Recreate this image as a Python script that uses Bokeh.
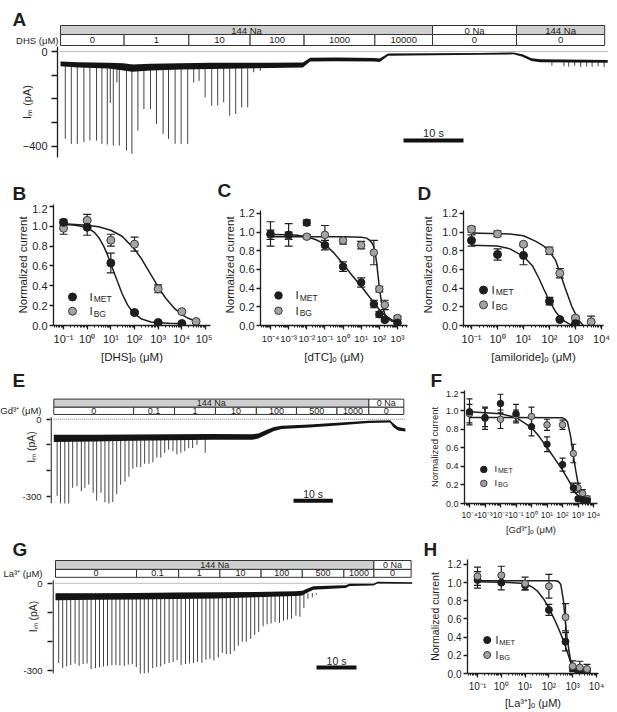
import math
from bokeh.plotting import figure
from bokeh.models import (Range1d, FixedTicker, CustomJSTickFormatter, PrintfTickFormatter,
                          Label, Whisker, TeeHead, ColumnDataSource)
from bokeh.layouts import column, row
from bokeh.embed import file_html
from bokeh.resources import INLINE
from bokeh.core.properties import value

FONT = "Liberation Sans"
INK = "#1e1e1e"
MET_FILL = "#1e1e1e"
BG_FILL = "#a3a3a3"
BG_LINE = "#3a3a3a"
HEAD_GRAY = "#cfcfcf"
SPIKE = "#444444"

# ======================= DATA =======================
# ---- A : DHS trace (time s, current pA) ----
a_na_edges = [0.0, 62.0, 76.0, 90.7]
a_na_labels = ["144 Na", "0 Na", "144 Na"]
a_na_shaded = [True, False, True]
a_dhs_edges = [0.0, 10.6, 21.4, 31.6, 40.6, 52.4, 62.0, 76.0, 90.7]
a_dhs_labels = ["0", "1", "10", "100", "1000", "10000", "0", "0"]
a_base_t = [0, 3, 8, 10.5, 12, 15, 20, 25, 30, 35, 40.4, 41.6, 46, 52.3, 53.2, 54.6, 62, 70, 75.5, 77, 78.5, 80, 91.2]
a_base_hi = [-42, -45, -47, -50, -55, -52, -50, -48, -47, -47, -46, -26, -25, -27, -30, -8, -7, -6, -4, -12, -28, -33, -36]
a_base_lo = [-62, -68, -72, -80, -85, -80, -76, -74, -72, -70, -68, -42, -41, -42, -44, -18, -16, -14, -12, -22, -40, -45, -48]
a_spike_t = [0.8, 1.8, 2.8, 3.9, 4.9, 6.0, 6.9, 7.8, 8.3, 8.8, 9.4, 9.8, 11.0, 11.9, 12.9, 13.9, 15.0, 16.0,
             17.1, 18.0, 19.1, 20.1, 21.2, 22.2, 23.1, 24.1, 25.2, 26.2, 27.2, 28.2, 29.2, 30.2, 31.2, 32.2, 33.3]
a_spike_pa = [-369, -390, -390, -383, -376, -376, -390, -393, -218, -397, -131, -397, -418, -432, -334, -243,
              -243, -306, -348, -369, -390, -390, -390, -131, -124, -194, -229, -229, -215, -271, -264, -236,
              -236, -88, -81]
a_late_t = [81.9, 83.9, 84.7, 85.7, 86.7, 87.7, 88.6, 89.6, 90.6]
a_late_pa = [-60, -62, -64, -60, -66, -63, -65, -62, -66]

# ---- B : DHS dose response ----
b_x_met = [0.1, 1, 10, 100, 1000, 10000]
b_y_met = [1.04, 0.99, 0.63, 0.13, 0.03, 0.02]
b_e_met = [0.03, 0.08, 0.10, 0.015, 0.01, 0.01]
b_x_bg = [0.1, 1, 10, 100, 1000, 10000, 40000]
b_y_bg = [0.98, 1.06, 0.86, 0.82, 0.37, 0.14, 0.04]
b_e_bg = [0.06, 0.06, 0.06, 0.07, 0.04, 0.015, 0.02]
b_fit_met_x = [0.1, 0.3, 1, 2, 3, 5, 7, 10, 15, 20, 30, 50, 70, 100, 200, 500, 1000, 3000, 10000]
b_fit_met_y = [1.02, 1.01, 0.99, 0.94, 0.89, 0.80, 0.72, 0.62, 0.51, 0.43, 0.32, 0.21, 0.16, 0.12, 0.065,
               0.035, 0.027, 0.022, 0.02]
b_fit_bg_x = [0.1, 1, 3, 10, 30, 100, 200, 500, 1000, 2000, 5000, 10000, 20000, 40000]
b_fit_bg_y = [1.025, 1.01, 0.995, 0.96, 0.90, 0.77, 0.67, 0.51, 0.39, 0.28, 0.17, 0.11, 0.07, 0.04]

# ---- C : dTC dose response ----
c_x = [1e-4, 1e-3, 1e-2, 0.1, 1, 10, 50, 100, 200, 1000]
c_y_met = [0.98, 0.97, 1.10, 0.86, 0.63, 0.46, 0.23, 0.12, 0.06, 0.03]
c_e_met = [0.13, 0.12, 0.03, 0.05, 0.05, 0.05, 0.04, 0.03, 0.02, 0.01]
c_y_bg = [0.97, 0.96, 0.95, 0.97, 0.91, 0.86, 0.78, 0.39, 0.22, 0.08]
c_e_bg = [0.05, 0.04, 0.02, 0.10, 0.04, 0.04, 0.13, 0.03, 0.05, 0.02]
c_fit_met_x = [1e-4, 1e-3, 3e-3, 1e-2, 3e-2, 0.1, 0.3, 1, 3, 10, 30, 50, 100, 200, 500, 1000]
c_fit_met_y = [0.975, 0.97, 0.965, 0.95, 0.92, 0.87, 0.78, 0.66, 0.54, 0.42, 0.30, 0.25, 0.17, 0.11, 0.06, 0.04]
c_fit_bg_x = [1e-4, 1, 10, 20, 30, 40, 50, 60, 70, 80, 100, 130, 200, 300, 500, 1000]
c_fit_bg_y = [0.95, 0.95, 0.945, 0.935, 0.91, 0.88, 0.84, 0.77, 0.68, 0.58, 0.41, 0.25, 0.12, 0.07, 0.045, 0.035]

# ---- D : amiloride dose response ----
d_x_met = [0.1, 1, 10, 100, 250, 1000]
d_y_met = [0.91, 0.76, 0.75, 0.26, 0.064, 0.02]
d_e_met = [0.06, 0.06, 0.10, 0.04, 0.01, 0.01]
d_x_bg = [0.1, 1, 10, 100, 250, 1000, 4000]
d_y_bg = [1.03, 0.98, 0.87, 0.80, 0.56, 0.08, 0.04]
d_e_bg = [0.03, 0.03, 0.01, 0.04, 0.05, 0.02, 0.06]
d_fit_met_x = [0.1, 1, 3, 10, 22, 40, 60, 100, 170, 300, 540, 900]
d_fit_met_y = [0.86, 0.85, 0.82, 0.74, 0.64, 0.50, 0.39, 0.26, 0.15, 0.065, 0.02, 0.0]
d_fit_bg_x = [0.1, 3, 10, 30, 60, 100, 170, 240, 400, 730, 1300, 2000]
d_fit_bg_y = [0.99, 0.98, 0.96, 0.90, 0.85, 0.79, 0.70, 0.58, 0.40, 0.20, 0.06, 0.0]

# ---- E : Gd3+ trace ----
e_na_edges = [0.0, 80.1, 89.0]
e_na_labels = ["144 Na", "0 Na"]
e_na_shaded = [True, False]
e_gd_edges = [0.0, 20.3, 30.7, 41.1, 51.5, 61.7, 72.0, 80.1, 89.0]
e_gd_labels = ["0", "0.1", "1", "10", "100", "500", "1000", "0"]
e_base_t = [0, 10, 20, 30, 40, 50.5, 52, 54, 56, 58, 65, 72, 80, 85.5, 86.3, 87.5, 89.4]
e_base_hi = [-60, -60, -59, -58, -57, -58, -55, -42, -30, -25, -20, -14, -6, -4, -16, -30, -36]
e_base_lo = [-88, -86, -84, -82, -80, -80, -75, -60, -46, -38, -32, -24, -15, -13, -30, -44, -48]
e_spike_t = [0.85, 1.7, 2.8, 3.8, 4.8, 5.9, 7.0, 7.9, 8.9, 10.0, 10.9, 12.0, 13.0, 14.0, 15.0, 16.0, 17.0,
             18.1, 19.1, 20.1, 21.1, 22.1, 23.1, 24.2, 25.2, 26.2, 27.2, 28.2, 29.2, 30.3, 31.3, 32.3, 33.3,
             34.3, 35.3, 36.4, 38.5]
e_spike_pa = [-297, -328, -335, -341, -266, -260, -279, -266, -254, -285, -316, -285, -322, -341, -322, -291,
              -254, -242, -223, -192, -186, -186, -173, -173, -167, -149, -149, -130, -118, -124, -136, -130,
              -124, -112, -112, -99, -130]

# ---- F : Gd3+ dose response ----
f_x = [1e-4, 1e-3, 1e-2, 0.1, 1, 10, 100, 500, 1000, 2000, 4000]
f_y_met = [0.99, 0.93, 1.08, 0.97, 0.83, 0.64, 0.42, 0.17, 0.05, 0.04, 0.03]
f_e_met = [0.14, 0.10, 0.10, 0.10, 0.10, 0.08, 0.07, 0.05, 0.02, 0.02, 0.02]
f_y_bg = [0.97, 0.92, 0.91, 0.95, 0.94, 0.85, 0.85, 0.54, 0.17, 0.11, 0.05]
f_e_bg = [0.10, 0.12, 0.10, 0.06, 0.10, 0.06, 0.05, 0.10, 0.05, 0.04, 0.03]
f_fit_met_x = [1e-4, 1e-2, 0.1, 1, 3.2, 9.6, 30, 100, 270, 710, 1900, 5000]
f_fit_met_y = [0.99, 0.97, 0.93, 0.82, 0.72, 0.61, 0.49, 0.36, 0.24, 0.11, 0.05, 0.025]
f_fit_bg_x = [1e-4, 100, 150, 210, 340, 480, 710, 1000, 1480, 2400, 5000]
f_fit_bg_y = [0.93, 0.925, 0.91, 0.88, 0.72, 0.54, 0.36, 0.22, 0.11, 0.04, 0.015]

# ---- G : La3+ trace ----
g_na_edges = [0.0, 79.6, 88.9]
g_na_labels = ["144 Na", "0 Na"]
g_na_shaded = [True, False]
g_la_edges = [0.0, 20.25, 30.8, 41.1, 51.4, 61.7, 72.1, 79.6, 88.9]
g_la_labels = ["0", "0.1", "1", "10", "100", "500", "1000", "0"]
g_base_t = [0, 10, 20, 30, 40, 50, 60, 61.7, 63, 64.5, 70, 72.5, 73.5, 79.5, 80.5, 89.2]
g_base_hi = [-34, -34, -33, -32, -31, -30, -27, -26, -18, -10, -8, -7, -2, -2, 5, 4]
g_base_lo = [-58, -57, -56, -54, -52, -48, -44, -42, -32, -22, -18, -16, -9, -8, -1, -2]
g_spike_t = [0.8, 1.8, 2.8, 3.8, 4.9, 5.9, 6.9, 7.9, 8.9, 10.0, 11.0, 12.0, 13.0, 14.1, 15.1, 16.1, 17.2,
             18.2, 19.2, 20.2, 21.2, 22.2, 23.2, 24.3, 25.3, 26.3, 27.3, 28.4, 29.4, 30.4, 31.4, 32.5, 33.5,
             34.5, 35.5, 36.6, 37.6, 38.6, 39.6, 40.7, 41.7, 42.7, 43.7, 44.7, 45.7, 46.7, 47.7, 48.8, 49.8,
             50.8, 51.9, 52.9, 53.9, 54.9, 56.0, 57.0, 58.0, 59.0, 60.1, 61.1, 62.1, 63.1, 64.2, 65.2]
g_spike_pa = [-274, -292, -286, -281, -276, -284, -278, -276, -295, -292, -289, -286, -284, -282, -281, -283,
              -284, -280, -278, -288, -313, -313, -308, -292, -288, -286, -278, -274, -271, -265, -281, -278,
              -276, -274, -270, -274, -263, -260, -265, -255, -239, -244, -244, -233, -214, -201, -201, -191,
              -178, -168, -148, -141, -138, -133, -136, -129, -125, -122, -111, -115, -85, -53, -48, -40]

# ---- H : La3+ dose response ----
h_x = [0.1, 1, 10, 100, 500, 1000, 2000, 4000]
h_y_met = [1.03, 1.00, 0.97, 0.70, 0.35, 0.06, 0.03, 0.03]
h_e_met = [0.09, 0.08, 0.05, 0.06, 0.10, 0.03, 0.02, 0.02]
h_y_bg = [1.07, 1.08, 0.99, 0.96, 0.62, 0.08, 0.065, 0.05]
h_e_bg = [0.10, 0.10, 0.07, 0.13, 0.15, 0.06, 0.07, 0.05]
h_fit_met_x = [0.1, 3, 10, 20, 32, 60, 100, 190, 300, 440, 720, 1000, 1650, 3200]
h_fit_met_y = [1.01, 1.0, 0.99, 0.95, 0.91, 0.82, 0.72, 0.57, 0.45, 0.34, 0.17, 0.075, 0.02, 0.0]
h_fit_bg_x = [0.1, 200, 260, 316, 410, 470, 570, 720, 910, 1180, 1650]
h_fit_bg_y = [1.02, 1.02, 1.01, 0.98, 0.80, 0.62, 0.41, 0.23, 0.075, 0.02, 0.0]

y_ticks = [0.0, 0.2, 0.4, 0.6, 0.8, 1.0, 1.2]
b_xticks = [1e-1, 1e0, 1e1, 1e2, 1e3, 1e4, 1e5]
c_xticks = [1e-4, 1e-3, 1e-2, 1e-1, 1e0, 1e1, 1e2, 1e3]
d_xticks = [1e-1, 1e0, 1e1, 1e2, 1e3, 1e4]
f_xticks = [1e-4, 1e-3, 1e-2, 1e-1, 1e0, 1e1, 1e2, 1e3, 1e4]
h_xticks = [1e-1, 1e0, 1e1, 1e2, 1e3, 1e4]
scale_bar_s = 10

# ======================= HELPERS =======================
SUP_JS = r"""
const m = {"-": "\u207b", "0": "\u2070", "1": "\u00b9", "2": "\u00b2", "3": "\u00b3",
           "4": "\u2074", "5": "\u2075", "6": "\u2076", "7": "\u2077", "8": "\u2078", "9": "\u2079"};
const e = Math.round(Math.log10(tick));
let s = "";
for (const c of String(e)) { s += m[c]; }
return "10" + s;
"""
TRACE_JS = "return tick > 1 ? lab : tick.toFixed(0);"


def style_axes(p):
    p.outline_line_color = None
    p.grid.visible = False
    p.background_fill_color = "white"
    p.border_fill_color = "white"
    for ax in p.axis:
        ax.axis_line_color = INK
        ax.axis_line_width = 1.3
        ax.major_tick_line_color = INK
        ax.major_tick_line_width = 1.3
        ax.minor_tick_line_color = INK
        ax.minor_tick_line_width = 1
        ax.major_tick_in = 0
        ax.minor_tick_in = 0
        ax.major_label_text_font = FONT
        ax.major_label_text_color = INK
        ax.axis_label_text_font = FONT
        ax.axis_label_text_color = INK
        ax.axis_label_text_font_style = "normal"


class Geo:
    """Maps page pixel positions (origin top-left of the page) to data for one panel."""
    def __init__(self, fig_x, fig_w, row_top, row_h, frame, xa, ya, xlog=False):
        self.fig_x, self.fig_w, self.row_top, self.row_h = fig_x, fig_w, row_top, row_h
        self.l, self.t, self.r, self.b = frame
        self.xa, self.ya, self.xlog = xa, ya, xlog

    def dx(self, px):
        pr, dr, k = self.xa
        v = dr + (px - pr) / k
        return 10 ** v if self.xlog else v

    def dy(self, py):
        pr, dr, k = self.ya
        return dr + (pr - py) / k

    def sx(self, px):
        return px - self.l

    def sy(self, py):
        return self.b - py

    def make(self, show_x=True):
        kw = dict(width=self.fig_w, height=self.row_h, output_backend="svg", toolbar_location=None,
                  x_range=Range1d(self.dx(self.l), self.dx(self.r)),
                  y_range=Range1d(self.dy(self.b), self.dy(self.t)),
                  min_border_left=self.l - self.fig_x,
                  min_border_right=self.fig_x + self.fig_w - self.r,
                  min_border_top=self.t - self.row_top,
                  min_border_bottom=self.row_top + self.row_h - self.b)
        if self.xlog:
            kw["x_axis_type"] = "log"
        if not show_x:
            kw["x_axis_location"] = None
        p = figure(**kw)
        style_axes(p)
        return p


def strip(top, h, xr=(0, 617)):
    """Full-width text strip; y in page pixels, x in the given units spanning the page width."""
    p = figure(width=617, height=h, output_backend="svg", toolbar_location=None,
               x_range=Range1d(*xr), y_range=Range1d(top + h, top),
               x_axis_location=None, y_axis_location=None,
               min_border_left=0, min_border_right=0, min_border_top=0, min_border_bottom=0)
    p.outline_line_color = None
    p.grid.visible = False
    p.background_fill_color = "white"
    p.border_fill_color = "white"
    return p


def letters(p, xs, ys, texts):
    # ys are the vertical centres of the capital letters
    p.text(x=xs, y=ys, text=texts, text_font=value(FONT), text_font_size=value("19px"),
           text_font_style="bold", text_align="left", text_baseline="middle", text_color=INK)


def add_label(p, g, px, py, text, size, align="left"):
    p.add_layout(Label(x=g.sx(px), y=g.sy(py), x_units="screen", y_units="screen", text=text,
                       text_font=FONT, text_font_size=f"{size}px", text_align=align,
                       text_baseline="middle", text_color=INK))


def header(p, na, drug, y_top, y_mid, y_bot, fs):
    na_edges, na_labels, na_shaded = na
    d_edges, d_labels = drug
    p.quad(left=na_edges[:-1], right=na_edges[1:], bottom=[y_mid] * len(na_labels), top=[y_top] * len(na_labels),
           fill_color=[HEAD_GRAY if s else "white" for s in na_shaded], line_color="#333333", line_width=1)
    p.quad(left=d_edges[:-1], right=d_edges[1:], bottom=[y_bot] * len(d_labels), top=[y_mid] * len(d_labels),
           fill_color="white", line_color="#333333", line_width=1)
    p.text(x=[(a + b) / 2 for a, b in zip(na_edges[:-1], na_edges[1:])], y=[(y_top + y_mid) / 2] * len(na_labels),
           text=na_labels, text_align="center", text_baseline="middle", text_font=value(FONT),
           text_font_size=value(fs), text_color=INK)
    p.text(x=[(a + b) / 2 for a, b in zip(d_edges[:-1], d_edges[1:])], y=[(y_mid + y_bot) / 2] * len(d_labels),
           text=d_labels, text_align="center", text_baseline="middle", text_font=value(FONT),
           text_font_size=value(fs), text_color=INK)


def dose_panel(g, xticks, xlabel, met, bg, fit_met, fit_bg, st, legend, gray_top=False):
    p = g.make()
    ya = p.yaxis[0]
    xa = p.xaxis[0]
    ya.ticker = FixedTicker(ticks=y_ticks)
    ya.formatter = PrintfTickFormatter(format="%.1f")
    ya.minor_tick_line_color = None
    ya.major_tick_out = 4
    ya.major_label_standoff = 2
    ya.major_label_text_font_size = st["ytick"]
    ya.axis_label = "Normalized current"
    ya.axis_label_text_font_size = st["ylab"]
    ya.axis_label_standoff = st["ylab_so"]
    ya.bounds = (0, st["ytop"])
    x0, x1 = p.x_range.start, p.x_range.end
    minor = []
    for d in range(math.floor(math.log10(x0)), math.ceil(math.log10(x1)) + 1):
        for k in range(2, 10):
            v = k * 10.0 ** d
            if x0 <= v <= x1:
                minor.append(v)
    xa.ticker = FixedTicker(ticks=xticks, minor_ticks=minor)
    xa.formatter = CustomJSTickFormatter(code=SUP_JS)
    xa.major_tick_out = 4
    xa.minor_tick_out = 2
    xa.major_label_standoff = st["xtick_so"]
    xa.major_label_text_font_size = st["xtick"]
    xa.axis_label = xlabel
    xa.axis_label_text_font_size = st["xlab"]
    xa.axis_label_standoff = st["xlab_so"]

    def errbars(xs, ys, es):
        src = ColumnDataSource(dict(x=xs, lo=[y - e for y, e in zip(ys, es)],
                                    hi=[y + e for y, e in zip(ys, es)]))
        p.add_layout(Whisker(source=src, base="x", lower="lo", upper="hi", dimension="height",
                             level="underlay", line_color=INK, line_width=1.2,
                             lower_head=TeeHead(size=st["cap"], line_color=INK, line_width=1.2),
                             upper_head=TeeHead(size=st["cap"], line_color=INK, line_width=1.2)))

    errbars(*met)
    errbars(*bg)
    p.line(fit_met[0], fit_met[1], line_color=INK, line_width=1.5)
    p.line(fit_bg[0], fit_bg[1], line_color=INK, line_width=1.5)

    def pts_met():
        p.scatter(met[0], met[1], size=st["size"], marker="circle", fill_color=MET_FILL, line_color=MET_FILL)

    def pts_bg():
        p.scatter(bg[0], bg[1], size=st["size"], marker="circle", fill_color=BG_FILL,
                  line_color=BG_LINE, line_width=1)

    if gray_top:
        pts_met(); pts_bg()
    else:
        pts_bg(); pts_met()

    lx, ly1, ly2, tx, fs, sfs, sub_dx, sub_dy = legend
    p.scatter([g.dx(lx)], [g.dy(ly1)], size=st["size"], marker="circle", fill_color=MET_FILL, line_color=MET_FILL)
    p.scatter([g.dx(lx)], [g.dy(ly2)], size=st["size"], marker="circle", fill_color=BG_FILL,
              line_color=BG_LINE, line_width=1)
    add_label(p, g, tx, ly1, "I", fs)
    add_label(p, g, tx + sub_dx, ly1 + sub_dy, "MET", sfs)
    add_label(p, g, tx, ly2, "I", fs)
    add_label(p, g, tx + sub_dx, ly2 + sub_dy, "BG", sfs)
    return p


def trace_panel(g, band, spike_groups, st, bar_pos, zero_end, head=None, drug_name=None):
    p = g.make(show_x=False)
    ya = p.yaxis[0]
    ya.minor_tick_out = st["tick"]
    ya.minor_tick_line_width = 1.3
    ya.major_label_text_font_size = st["tick_fs"]
    ya.axis_label = "I\u2098 (pA)"
    ya.axis_label_text_font_size = st["ylab_fs"]
    ya.axis_label_standoff = st["ylab_so"]
    if head is None:
        ya.ticker = FixedTicker(ticks=[-st["full"], 0], minor_ticks=st["minor"])
        ya.major_tick_out = st["tick"]
        ya.major_label_standoff = st["lab_so"]
    else:
        # header rows inside the frame, drug name written as the label of a tick on the header row
        na, drug, rows = head
        top, mid, bot = g.dy(rows[0]), g.dy(rows[1]), g.dy(rows[2])
        header(p, na, drug, top, mid, bot, st["head_fs"])
        ya.ticker = FixedTicker(ticks=[-st["full"], 0, (mid + bot) / 2],
                                minor_ticks=[-st["full"]] + st["minor"] + [0])
        ya.formatter = CustomJSTickFormatter(args=dict(lab=drug_name), code=TRACE_JS)
        ya.major_tick_line_color = None
        ya.major_tick_out = 0
        ya.major_label_standoff = st["lab_so"]
        ya.axis_line_color = None
        xl = g.dx(g.l + 0.6)
        p.segment(x0=[xl], y0=[g.dy(g.b)], x1=[xl], y1=[g.dy(st["axis_top"])], line_color=INK, line_width=1.3)
    # zero line
    p.segment(x0=[0.0], y0=[0], x1=[zero_end], y1=[0], line_color="#777777", line_width=1, line_dash="1 1")
    for ts, pas, start in spike_groups:
        p.segment(x0=ts, y0=[start] * len(ts), x1=ts, y1=pas, line_color=SPIKE, line_width=1)
    p.varea(x=band[0], y1=band[2], y2=band[1], fill_color="#141414")
    bx, by, tc = bar_pos
    x0 = g.dx(bx)
    p.segment(x0=[x0], y0=[g.dy(by)], x1=[x0 + scale_bar_s], y1=[g.dy(by)], line_color="#111111",
              line_width=4, line_cap="butt")
    p.text(x=[x0 + scale_bar_s / 2], y=[g.dy(tc)], text=[f"{scale_bar_s} s"], text_align="center",
           text_baseline="middle", text_font=value(FONT), text_font_size=value(st["bar_fs"]),
           text_color=INK)
    return p


# ======================= PANELS =======================
# ---- Row 1 : A ----
gA = Geo(0, 617, 46, 124, (57, 46, 609, 157), (60, 0.0, 6.0), (51, 0.0, 0.2368))
sA = strip(0, 46, xr=(gA.dx(0), gA.dx(617)))
header(sA, (a_na_edges, a_na_labels, a_na_shaded), (a_dhs_edges, a_dhs_labels), 25, 34, 45, "9.5px")
sA.text(x=[gA.dx(58)], y=[39.5], text=["DHS (\u03bcM)"], text_align="right", text_baseline="middle",
        text_font=value(FONT), text_font_size=value("9.5px"), text_color=INK)
letters(sA, [gA.dx(12)], [19], ["A"])
pA = trace_panel(gA, (a_base_t, a_base_hi, a_base_lo),
                 [(a_spike_t, a_spike_pa, -55), (a_late_t, a_late_pa, -40)],
                 dict(full=400, minor=[-300, -200, -100], tick=6, tick_fs="11px", lab_so=4,
                      ylab_fs="11px", ylab_so=-13, bar_fs="11px"),
                 (403, 140, 132.5), 91.2)

# ---- Row 2 : B, C, D ----
s2 = strip(170, 34)
letters(s2, [12, 217, 417], [193, 190, 193], ["B", "C", "D"])
gB = Geo(0, 212, 204, 161, (53, 204, 210, 327), (63, -1, 23.67), (327, 0.0, 100.83), xlog=True)
pB = dose_panel(gB, b_xticks, "[DHS]\u2092 (\u03bcM)",
                (b_x_met, b_y_met, b_e_met), (b_x_bg, b_y_bg, b_e_bg),
                (b_fit_met_x, b_fit_met_y), (b_fit_bg_x, b_fit_bg_y),
                dict(ytick="11px", ylab="11.5px", ylab_so=0, xtick="11px", xtick_so=3, xlab="11.5px",
                     xlab_so=3, cap=8, size=8, ytop=1.23),
                (72, 298, 312.5, 89, 11.5, 8.5, 4.2, 2.5))
gC = Geo(212, 203, 204, 161, (260, 204, 407, 327), (270, -4, 18.14), (327, 0.0, 95.0), xlog=True)
pC = dose_panel(gC, c_xticks, "[dTC]\u2092 (\u03bcM)",
                (c_x, c_y_met, c_e_met), (c_x, c_y_bg, c_e_bg),
                (c_fit_met_x, c_fit_met_y), (c_fit_bg_x, c_fit_bg_y),
                dict(ytick="11px", ylab="11.5px", ylab_so=0, xtick="9.5px", xtick_so=3, xlab="11.5px",
                     xlab_so=4, cap=8, size=7.5, ytop=1.23),
                (278, 296.5, 312, 295, 11.5, 8.5, 4.2, 2.5))
gD = Geo(415, 202, 204, 161, (463, 204, 603, 327), (471, -1, 26.0), (327, 0.0, 95.0), xlog=True)
pD = dose_panel(gD, d_xticks, "[amiloride]\u2092 (\u03bcM)",
                (d_x_met, d_y_met, d_e_met), (d_x_bg, d_y_bg, d_e_bg),
                (d_fit_met_x, d_fit_met_y), (d_fit_bg_x, d_fit_bg_y),
                dict(ytick="11px", ylab="11.5px", ylab_so=5, xtick="11px", xtick_so=3, xlab="11.5px",
                     xlab_so=3, cap=8, size=8, ytop=1.23),
                (483, 291, 306, 491, 11.5, 8.5, 4.2, 2.5))

# ---- Row 3 : E, F ----
s3 = strip(365, 25)
letters(s3, [12, 430], [380, 379.5], ["E", "F"])
gE = Geo(0, 420, 390, 147, (50, 390, 406, 508), (53.3, 0.0, 3.933), (420, 0.0, 0.269))
pE = trace_panel(gE, (e_base_t, e_base_hi, e_base_lo), [(e_spike_t, e_spike_pa, -70)],
                 dict(full=300, minor=[-200, -100], tick=4, tick_fs="9.5px", lab_so=5, ylab_fs="10.5px",
                      ylab_so=-40, bar_fs="10.5px", head_fs="9px", axis_top=418),
                 (293, 505, 498), 89.4,
                 head=((e_na_edges, e_na_labels, e_na_shaded), (e_gd_edges, e_gd_labels), (399, 407.5, 415)),
                 drug_name="Gd\u00b3\u207a (\u03bcM)")
gF = Geo(420, 197, 390, 147, (464, 390, 597, 508), (469, -4, 15.5), (508, 0.0, 96.67), xlog=True)
pF = dose_panel(gF, f_xticks, "[Gd\u00b3\u207a]\u2092 (\u03bcM)",
                (f_x, f_y_met, f_e_met), (f_x, f_y_bg, f_e_bg),
                (f_fit_met_x, f_fit_met_y), (f_fit_bg_x, f_fit_bg_y),
                dict(ytick="9px", ylab="9.5px", ylab_so=3, xtick="8.5px", xtick_so=2, xlab="9.5px",
                     xlab_so=1, cap=6, size=6.5, ytop=1.22),
                (483.3, 472.5, 487, 494, 9.5, 7, 3.5, 2))

# ---- Row 4 : G, H ----
s4 = strip(537, 22)
letters(s4, [12, 423], [549, 548.5], ["G", "H"])
gG = Geo(0, 420, 559, 152, (52, 559, 412, 674), (55, 0.0, 4.0), (583, 0.0, 0.2933))
pG = trace_panel(gG, (g_base_t, g_base_hi, g_base_lo), [(g_spike_t, g_spike_pa, -34)],
                 dict(full=300, minor=[-200, -100], tick=5, tick_fs="9.5px", lab_so=5, ylab_fs="10.5px",
                      ylab_so=-39, bar_fs="10.5px", head_fs="9px", axis_top=580),
                 (316, 668, 661.5), 89.2,
                 head=((g_na_edges, g_na_labels, g_na_shaded), (g_la_edges, g_la_labels), (560, 569, 577)),
                 drug_name="La\u00b3\u207a (\u03bcM)")
gH = Geo(420, 197, 559, 152, (467, 559, 598, 674), (477, -1, 23.8), (674, 0.0, 91.67), xlog=True)
pH = dose_panel(gH, h_xticks, "[La\u00b3\u207a]\u2092 (\u03bcM)",
                (h_x, h_y_met, h_e_met), (h_x, h_y_bg, h_e_bg),
                (h_fit_met_x, h_fit_met_y), (h_fit_bg_x, h_fit_bg_y),
                dict(ytick="10px", ylab="10.5px", ylab_so=4, xtick="10px", xtick_so=3, xlab="11px",
                     xlab_so=2, cap=7, size=7, ytop=1.25),
                (486.7, 640.3, 655.3, 495, 10.5, 7.5, 3.7, 2.2), gray_top=True)

layout = column(sA, row(pA), s2, row(pB, pC, pD), s3, row(pE, pF), s4, row(pG, pH))
with open("out.html", "w", encoding="utf-8") as fh:
    fh.write(file_html(layout, INLINE))
